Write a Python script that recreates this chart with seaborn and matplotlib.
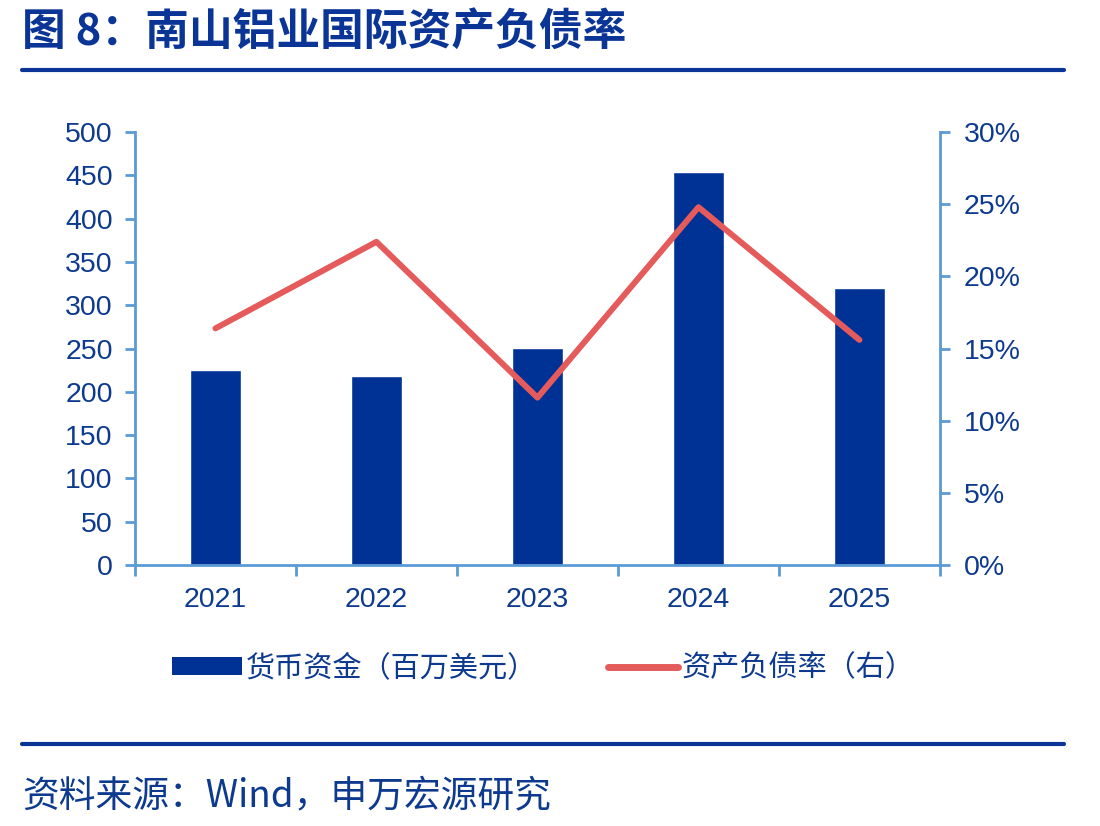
import pandas as pd
import matplotlib
matplotlib.use('Agg')
import matplotlib.pyplot as plt
import seaborn as sns
from matplotlib.lines import Line2D
from matplotlib.patches import Patch
from matplotlib.ticker import FuncFormatter, MultipleLocator, FixedLocator

# 数据
years = ['2021', '2022', '2023', '2024', '2025']
cash = [225, 218, 251, 454, 320]          # 货币资金（百万美元）
debt_ratio = [16.4, 22.4, 11.6, 24.8, 15.6]  # 资产负债率（%）

bar_color = '#003296'
line_color = '#E55B5B'
axis_color = '#5B9BD5'
text_color = '#0D3A8E'
num_font = ['Liberation Sans', 'DejaVu Sans']

sns.set_theme(style='white')
plt.rcParams['font.family'] = ['Noto Sans CJK SC', 'DejaVu Sans']

df = pd.DataFrame({'year': years, 'cash': cash, 'ratio': debt_ratio})

fig = plt.figure(figsize=(11, 8.26), dpi=100)
ax = fig.add_axes([0.1227, 0.316, 0.7318, 0.524])

sns.barplot(data=df, x='year', y='cash', color=bar_color, width=0.32,
            saturation=1, ax=ax)
ax.set_xlim(-0.5, len(years) - 0.5)
ax.set_ylim(0, 500)
ax.yaxis.set_major_locator(MultipleLocator(50))
ax.set_xlabel('')
ax.set_ylabel('')

ax2 = ax.twinx()
sns.lineplot(x=range(len(years)), y=debt_ratio, color=line_color, linewidth=4.3,
             ax=ax2)
ax2.set_ylim(0, 30)
ax2.yaxis.set_major_locator(MultipleLocator(5))
ax2.yaxis.set_major_formatter(FuncFormatter(lambda v, p: f'{v:.0f}%'))
ax2.set_xlim(-0.5, len(years) - 0.5)

# 坐标轴样式
for a in (ax, ax2):
    for s in a.spines.values():
        s.set_visible(False)
ax.spines['left'].set_visible(True)
ax.spines['bottom'].set_visible(True)
ax2.spines['right'].set_visible(True)
for s in (ax.spines['left'], ax.spines['bottom'], ax2.spines['right']):
    s.set_color(axis_color)
    s.set_linewidth(2)

ax.tick_params(axis='y', length=7, width=2, color=axis_color, direction='out',
               labelsize=20.5, labelcolor=text_color, pad=9, left=True)
ax2.tick_params(axis='y', length=7, width=2, color=axis_color, direction='out',
                labelsize=20.5, labelcolor=text_color, pad=10, right=True)

# x 轴刻度在类别之间，标签居中
ax.xaxis.set_major_locator(FixedLocator([i + 0.5 for i in range(-1, len(years))]))
ax.set_xticklabels([])
ax.xaxis.set_minor_locator(FixedLocator(range(len(years))))
ax.set_xticklabels(years, minor=True)
ax.tick_params(axis='x', which='major', length=8, width=2, color=axis_color,
               direction='out', bottom=True)
ax.tick_params(axis='x', which='minor', length=0, labelsize=20.5,
               labelcolor=text_color, pad=16)
for lbl in (ax.get_yticklabels() + ax2.get_yticklabels()
            + ax.get_xticklabels(minor=True)):
    lbl.set_family(num_font)
ax.grid(False)
ax2.grid(False)

# 图例
handles = [Patch(facecolor=bar_color, edgecolor='none'),
           Line2D([0], [0], color=line_color, linewidth=5)]
labels = ['货币资金（百万美元）', '资产负债率（右）']
fig.legend(handles, labels, loc='center', bbox_to_anchor=(0.494, 0.191), ncol=2,
           frameon=False, fontsize=21, handlelength=2.4, handleheight=0.55,
           columnspacing=2.4, handletextpad=0.15, labelcolor=text_color)

# 标题与装饰线
fig.text(0.02, 0.962, '图 8：南山铝业国际资产负债率', fontsize=31.5, fontweight='bold',
         color='#0A3597', va='center', ha='left')
fig.add_artist(Line2D([0.02, 0.967], [0.915, 0.915], color='#0A3597', linewidth=3))
fig.add_artist(Line2D([0.02, 0.967], [0.099, 0.099], color='#0A3597', linewidth=3))
fig.text(0.02, 0.037, '资料来源：Wind，申万宏源研究', fontsize=26.5, color=text_color,
         va='center', ha='left')

fig.savefig('out.png', dpi=100)
